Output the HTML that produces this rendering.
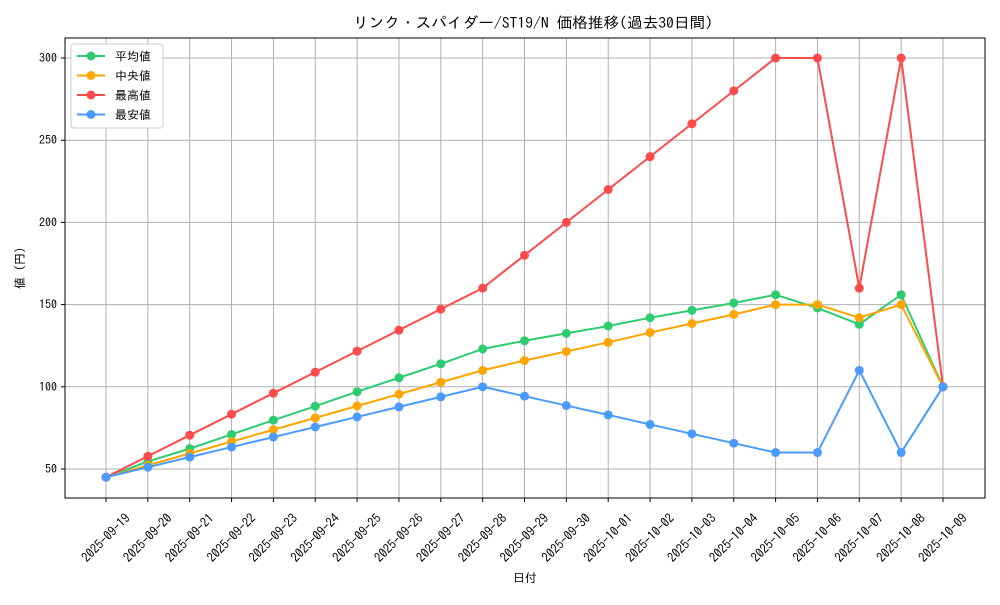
<!DOCTYPE html>
<html><head><meta charset="utf-8"><style>
html,body{margin:0;padding:0;background:#fff;}
svg text{font-family:"IPAGothic","Noto Sans CJK JP",sans-serif;fill:#000;}
</style></head><body>
<svg id="s" width="1000" height="600" xmlns="http://www.w3.org/2000/svg">
<rect width="1000" height="600" fill="#fff"/>
<text x="533" y="28" font-size="15" text-anchor="middle" textLength="360" lengthAdjust="spacingAndGlyphs">リンク・スパイダー/ST19/N 価格推移(過去30日間)</text>
<g id="grid"></g>
<rect x="65" y="38" width="920" height="460" fill="none" stroke="#000" stroke-width="1"/>
<g id="series"></g>
<text x="525" y="582" font-size="12" text-anchor="middle">日付</text>
<text transform="translate(24,268) rotate(-90)" font-size="12" text-anchor="middle">値 (円)</text>
<g transform="translate(71,44)">
<rect width="92" height="84" fill="#fff" stroke="#ccc" rx="3"/>
<g id="leg"></g>
</g>
</svg>
<script>
const ns="http://www.w3.org/2000/svg";
function el(t,a,p){const e=document.createElementNS(ns,t);for(const k in a)e.setAttribute(k,a[k]);p.appendChild(e);return e;}
const X=i=>106+i*41.85, Y=v=>469-(v-50)*1.644;
const g=document.getElementById('grid');
const dates=[];for(let i=0;i<21;i++){const d=new Date(Date.UTC(2025,8,19+i));dates.push(d.toISOString().slice(0,10));}
dates.forEach((d,i)=>{const x=X(i);el('line',{x1:x,x2:x,y1:38,y2:498,stroke:'#b0b0b0','stroke-width':1},g);
el('line',{x1:x,x2:x,y1:498,y2:502,stroke:'#000'},g);
const t=el('text',{transform:`translate(${x+3},${541}) rotate(-45)`,'font-size':13,'text-anchor':'middle',textLength:62,lengthAdjust:'spacingAndGlyphs'},g);t.textContent=d;});
[50,100,150,200,250,300].forEach(v=>{const y=Y(v);el('line',{x1:65,x2:985,y1:y,y2:y,stroke:'#b0b0b0'},g);
el('line',{x1:61,x2:65,y1:y,y2:y,stroke:'#000'},g);
const t=el('text',{x:57,y:y+4,'font-size':12,'text-anchor':'end'},g);t.textContent=v;});
const mx=[],mn=[],md=[];for(let i=0;i<10;i++){mx.push(45+i*12.78);mn.push(45+i*6.11);md.push(45+i*7.22);}
mx.push(180,200,220,240,260,280,300,300,160,300,100);
mn.push(94.3,88.6,82.9,77.1,71.4,65.7,60,60,110,60,100);
md.push(116,121.5,127,133,138.5,144,150,150,142,150,100);
const mean=[45,54.6,62.4,71,79.7,88.2,97,105.5,114,123,128,132.5,137,142,146.5,151,156,148,138,156,100];
const S=[[mean,'#2ecc71','平均値'],[md,'#ffa500','中央値'],[mx,'#ff4b4b','最高値'],[mn,'#4b9bff','最安値']];
const sg=document.getElementById('series'),lg=document.getElementById('leg');
S.forEach(([d,c,n],k)=>{el('polyline',{points:d.map((v,i)=>X(i)+','+Y(v)).join(' '),fill:'none',stroke:c,'stroke-width':2},sg);
d.forEach((v,i)=>el('circle',{cx:X(i),cy:Y(v),r:4.5,fill:c},sg));
const y=12+k*19.5;el('line',{x1:6,x2:34,y1:y,y2:y,stroke:c,'stroke-width':2},lg);el('circle',{cx:20,cy:y,r:4.5,fill:c},lg);
const t=el('text',{x:44,y:y+4.5,'font-size':12},lg);t.textContent=n;});
</script>
</body></html>
